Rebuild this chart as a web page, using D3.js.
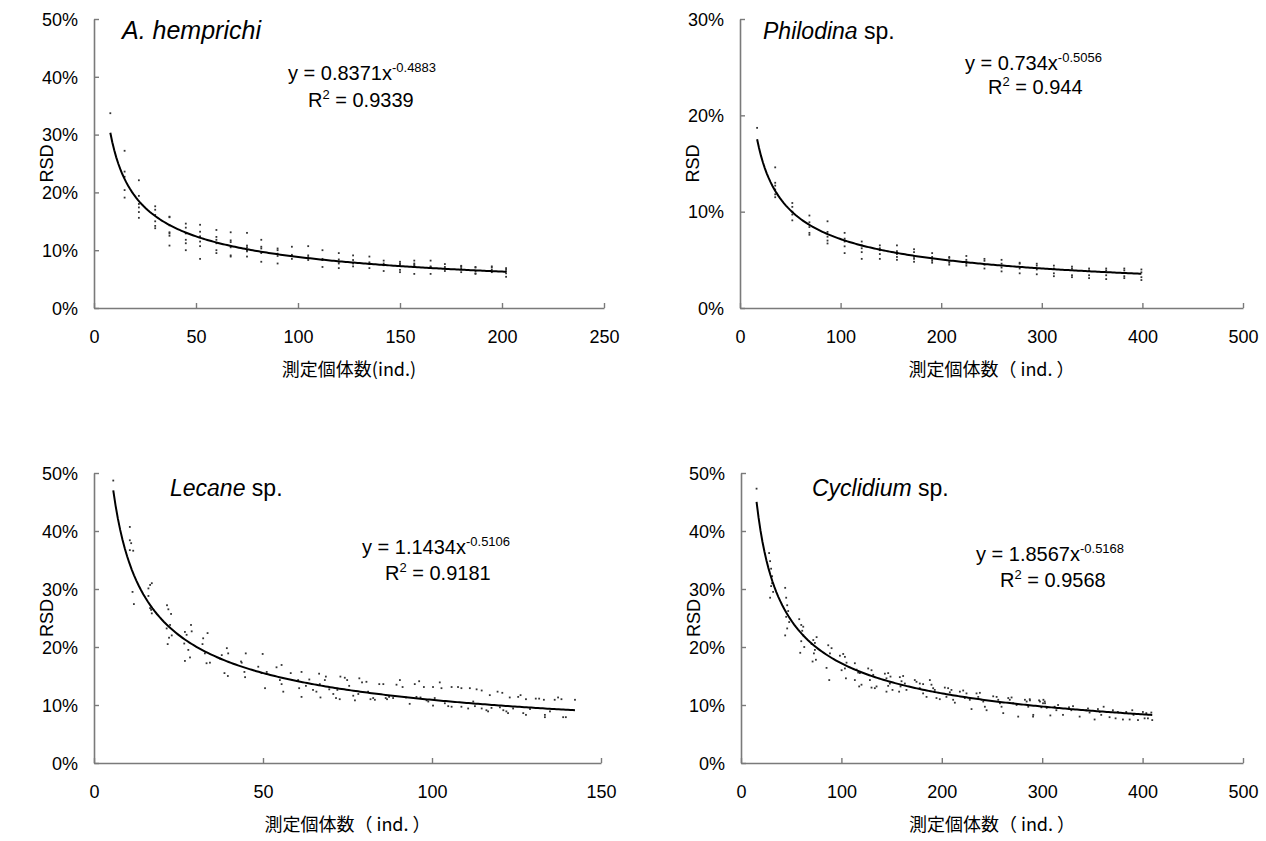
<!DOCTYPE html>
<html><head><meta charset="utf-8">
<script src="https://cdn.jsdelivr.net/npm/d3@7"></script>
<style>body{margin:0;background:#fff}</style>
</head><body>
<svg id="chart" width="1266" height="841"></svg>
<script>
// ---------- data ----------
// A. hemprichi : sample size groups and RSD values measured in each group
const hempX = [8, 15, 22, 30, 37, 45, 52, 60, 67, 75, 82, 90, 97, 105, 112, 120, 127, 135, 142, 150, 157, 165, 172, 180, 187, 195, 202];
const hempY = [
  [0.337],
  [0.272, 0.236, 0.227, 0.204, 0.191],
  [0.221, 0.194, 0.180, 0.174, 0.166, 0.156],
  [0.176, 0.170, 0.161, 0.150, 0.142, 0.138],
  [0.158, 0.157, 0.143, 0.131, 0.129, 0.125, 0.108],
  [0.146, 0.139, 0.129, 0.118, 0.112, 0.100],
  [0.144, 0.132, 0.124, 0.115, 0.107, 0.085],
  [0.135, 0.123, 0.118, 0.112, 0.100, 0.095],
  [0.131, 0.117, 0.114, 0.105, 0.091, 0.089],
  [0.130, 0.108, 0.105, 0.100, 0.098, 0.089],
  [0.118, 0.106, 0.103, 0.095, 0.080],
  [0.103, 0.100, 0.094, 0.090, 0.077],
  [0.106, 0.092, 0.090, 0.085],
  [0.107, 0.091, 0.088, 0.083],
  [0.100, 0.085, 0.083, 0.071],
  [0.095, 0.084, 0.080, 0.077, 0.069],
  [0.091, 0.083, 0.077, 0.072],
  [0.089, 0.079, 0.077, 0.069],
  [0.082, 0.077, 0.074, 0.064],
  [0.080, 0.077, 0.075, 0.066, 0.062],
  [0.082, 0.077, 0.075, 0.073, 0.059],
  [0.082, 0.072, 0.071, 0.059],
  [0.076, 0.071, 0.068, 0.064],
  [0.073, 0.072, 0.069, 0.062],
  [0.071, 0.070, 0.064, 0.060, 0.059],
  [0.072, 0.070, 0.066, 0.062],
  [0.069, 0.066, 0.063, 0.060, 0.054]
];

// Philodina sp.
const philX = [17, 35, 52, 69, 87, 104, 121, 139, 156, 173, 191, 208, 225, 243, 260, 278, 295, 312, 330, 347, 364, 382, 399];
const philY = [
  [0.187],
  [0.146, 0.130, 0.127, 0.123, 0.118, 0.115],
  [0.109, 0.105, 0.100, 0.097, 0.091],
  [0.096, 0.089, 0.084, 0.078, 0.076],
  [0.090, 0.079, 0.074, 0.070, 0.067],
  [0.078, 0.072, 0.069, 0.064, 0.057],
  [0.069, 0.065, 0.062, 0.058, 0.051],
  [0.065, 0.062, 0.060, 0.056, 0.051],
  [0.065, 0.059, 0.056, 0.053, 0.050],
  [0.061, 0.058, 0.053, 0.051, 0.048],
  [0.057, 0.053, 0.051, 0.049, 0.047],
  [0.053, 0.052, 0.049, 0.047, 0.045],
  [0.054, 0.050, 0.048, 0.046, 0.044],
  [0.051, 0.049, 0.045, 0.041],
  [0.050, 0.046, 0.042, 0.038],
  [0.047, 0.046, 0.041, 0.036],
  [0.046, 0.044, 0.040, 0.035],
  [0.044, 0.041, 0.036, 0.033],
  [0.043, 0.041, 0.034, 0.032],
  [0.041, 0.039, 0.034, 0.031],
  [0.041, 0.039, 0.034, 0.030],
  [0.041, 0.039, 0.033, 0.031],
  [0.040, 0.037, 0.032, 0.029]
];

// Lecane sp. : [sample size, RSD]
const lecanePts = [
  [5.7,0.487],[10.6,0.407],[10.6,0.384],[11.0,0.379],[10.6,0.367],[11.6,0.366],[11.4,0.295],[11.8,0.274],
  [16.1,0.301],[16.1,0.288],[16.6,0.307],[16.6,0.267],[17.1,0.310],[17.1,0.258],[16.9,0.264],
  [21.5,0.232],[21.6,0.272],[21.8,0.205],[22.0,0.265],[22.2,0.216],[22.5,0.238],[22.8,0.257],[23.0,0.220],
  [26.7,0.206],[26.9,0.226],[26.9,0.176],[27.4,0.221],[27.9,0.195],[28.4,0.182],[28.7,0.238],[28.9,0.227],
  [32.1,0.205],[32.3,0.215],[32.8,0.189],[33.3,0.172],[33.6,0.224],[34.3,0.173],
  [37.3,0.180],[37.8,0.186],[38.6,0.155],[39.3,0.198],[39.6,0.150],[39.7,0.189],
  [43.5,0.175],[43.7,0.173],[44.5,0.157],[44.7,0.148],[44.9,0.189],
  [48.6,0.166],[49.6,0.155],[49.9,0.188],[50.6,0.129],[51.1,0.157],
  [54.0,0.165],[55.0,0.143],[55.5,0.169],[55.5,0.136],[56.0,0.123],
  [58.2,0.155],[60.4,0.143],[60.7,0.129],[61.4,0.157],[61.4,0.114],
  [62.7,0.133],[63.7,0.144],[64.8,0.126],[65.8,0.123],[66.6,0.154],[67.0,0.113],[66.8,0.136],
  [68.3,0.143],[68.6,0.149],[69.6,0.127],[70.8,0.119],[71.6,0.112],[72.0,0.126],[72.7,0.110],[72.9,0.149],
  [74.2,0.147],[74.9,0.143],[75.5,0.133],[76.7,0.116],[77.2,0.108],[78.2,0.119],[78.5,0.146],[79.3,0.139],
  [80.6,0.140],[81.1,0.123],[81.8,0.110],[82.6,0.112],[83.1,0.109],[84.4,0.136],[85.6,0.136],[86.3,0.112],
  [86.7,0.110],[87.3,0.114],[88.5,0.112],[89.5,0.135],[90.5,0.143],[91.3,0.131],[92.3,0.113],[93.4,0.102],
  [94.9,0.136],[95.4,0.114],[96.2,0.141],[96.6,0.113],[97.6,0.131],[98.4,0.108],[98.9,0.106],[100.3,0.131],
  [100.8,0.112],[100.3,0.099],[102.3,0.139],[102.8,0.129],[103.8,0.103],[104.8,0.098],[105.8,0.131],[105.8,0.097],
  [107.7,0.131],[108.7,0.129],[108.7,0.097],[110.7,0.094],[111.2,0.129],[112.2,0.106],[112.7,0.098],[113.2,0.127],
  [114.7,0.125],[114.7,0.094],[116.1,0.091],[116.6,0.089],[117.1,0.117],[117.6,0.095],[119.4,0.123],[120.1,0.096],
  [120.8,0.121],[121.1,0.091],[122.0,0.089],[122.5,0.086],[123.0,0.113],[124.0,0.094],[125.5,0.114],[126.2,0.117],
  [127.0,0.086],[127.8,0.083],[127.8,0.110],[129.0,0.093],[130.7,0.111],[131.7,0.111],[133.1,0.109],[133.4,0.083],
  [133.4,0.079],[134.9,0.089],[136.3,0.109],[137.3,0.113],[138.3,0.110],[138.8,0.079],[139.6,0.079],[142.3,0.109]
];

// Cyclidium sp. : [sample size, RSD]
const cyclPts = [
  [15.5,0.473],
  [28,0.362],[29,0.348],[30,0.335],[31,0.322],[31,0.310],[30,0.305],[32,0.295],[29,0.285],
  [44,0.302],[45,0.285],[46,0.272],[47,0.262],[45,0.252],[48,0.243],[46,0.232],[44,0.220],
  [58,0.248],[60,0.238],[62,0.235],[61,0.228],[62,0.220],[60,0.210],[63,0.200],[59,0.190],
  [70.3,0.205],[72.0,0.212],[73.6,0.207],[75.3,0.217],[72.6,0.189],[71.3,0.175],[74.6,0.178],[73.6,0.195],
  [86.9,0.203],[88.6,0.189],[90.2,0.198],[85.2,0.164],[87.9,0.143],
  [98.5,0.185],[101.8,0.188],[103.5,0.183],[105.1,0.173],[100.2,0.160],[104.5,0.146],[103.5,0.163],
  [113.4,0.172],[115.1,0.161],[116.7,0.156],[118.4,0.155],[113.4,0.143],[117.7,0.132],[120.0,0.135],
  [126.7,0.163],[130.0,0.160],[131.7,0.152],[128.4,0.143],[130.0,0.130],[133.3,0.129],[135.0,0.132],
  [143.3,0.154],[146.6,0.155],[144.9,0.146],[148.3,0.137],[146.6,0.133],[144.9,0.123],[150.9,0.126],[148.9,0.149],
  [158.2,0.148],[159.9,0.141],[161.5,0.150],[163.2,0.137],[157.5,0.123],[158.9,0.132],[164.8,0.126],
  [173.1,0.143],[174.8,0.140],[178.1,0.137],[181.4,0.136],[178.1,0.129],[181.4,0.120],[184.8,0.114],
  [188.1,0.143],[189.7,0.135],[191.4,0.129],[193.0,0.126],[194.7,0.112],[198.0,0.110],
  [203.0,0.130],[206.3,0.129],[208.0,0.122],[209.6,0.126],[204.6,0.114],[211.3,0.109],[213.0,0.104],
  [218.0,0.123],[221.3,0.125],[224.6,0.120],[222.9,0.112],[227.9,0.109],[229.6,0.093],
  [234.6,0.120],[237.9,0.121],[236.3,0.114],[239.6,0.109],[241.3,0.106],[242.9,0.097],[244.6,0.091],
  [251.2,0.115],[254.6,0.114],[256.2,0.109],[257.9,0.103],[259.5,0.097],[261.2,0.086],
  [266.2,0.112],[267.7,0.109],[269.5,0.113],[271.1,0.103],[274.5,0.100],[276.1,0.080],
  [282.8,0.109],[284.5,0.106],[287.8,0.108],[286.1,0.097],[291.1,0.083],[287.6,0.110],[290.9,0.080],
  [297.8,0.106],[301.2,0.109],[302.8,0.103],[304.5,0.095],[296.9,0.108],[300.8,0.103],[299.2,0.096],[302.5,0.106],
  [308.1,0.082],[312.4,0.097],[314.1,0.091],[315.8,0.100],[320.7,0.083],[326.7,0.096],[329.0,0.091],[330.7,0.098],
  [337.3,0.080],[343.9,0.091],[345.6,0.094],[347.2,0.087],[352.2,0.075],[355.5,0.093],[358.8,0.083],[361.2,0.097],
  [357.2,0.088],[367.1,0.079],[370.4,0.091],[373.1,0.077],[375.4,0.088],[380.4,0.075],[383.7,0.088],[387.1,0.075],
  [389.7,0.091],[391.0,0.083],[395.4,0.074],[400.3,0.088],[402.0,0.077],[403.7,0.086],[405.3,0.077],[408.7,0.087],[409.6,0.074]
];

// Power fits y = a * x^b stated on each panel
const speciesNames = [["A. hemprichi", ""], ["Philodina", " sp."], ["Lecane", " sp."], ["Cyclidium", " sp."]];
const fitA = [0.8371, 0.734, 1.1434, 1.8567];
const fitB = [-0.4883, -0.5056, -0.5106, -0.5168];
const fitR2 = ["0.9339", "0.944", "0.9181", "0.9568"];

// Axis ticks
const xTicksList = [[0, 50, 100, 150, 200, 250], [0, 100, 200, 300, 400, 500], [0, 50, 100, 150], [0, 100, 200, 300, 400, 500]];
const yTicksList = [[0, 0.1, 0.2, 0.3, 0.4, 0.5], [0, 0.1, 0.2, 0.3], [0, 0.1, 0.2, 0.3, 0.4, 0.5], [0, 0.1, 0.2, 0.3, 0.4, 0.5]];
const xLabels = ["測定個体数(ind.)", "測定個体数（ ind. ）", "測定個体数（ ind. ）", "測定個体数（ ind. ）"];

// ---------- layout ----------
const layout = [
  {left: 94,  top: 19,  w: 510, h: 289, title: [122, 39],  titleSize: 25, eq: [288, 80],  r2: [308, 107]},
  {left: 740, top: 19,  w: 503, h: 289, title: [763, 39],  titleSize: 23, eq: [965, 70],  r2: [988, 94]},
  {left: 94,  top: 473, w: 507, h: 290, title: [170, 496], titleSize: 23, eq: [362, 554], r2: [385, 580]},
  {left: 741, top: 473, w: 502, h: 290, title: [812, 496], titleSize: 23, eq: [976, 561], r2: [1000, 587]}
];

const pointSets = [
  hempX.flatMap((x, i) => hempY[i].map(y => [x, y])),
  philX.flatMap((x, i) => philY[i].map(y => [x, y])),
  lecanePts,
  cyclPts
];

const svg = d3.select("#chart");
const FONT = "'Liberation Sans', Arial, sans-serif";
const JFONT = "'Noto Sans CJK JP', 'Liberation Sans', sans-serif";
const axisColor = "#7a7a7a";
const pct = d3.format(".0%");

layout.forEach((L, i) => {
  const xt = xTicksList[i], yt = yTicksList[i];
  const x = d3.scaleLinear().domain([0, xt[xt.length - 1]]).range([L.left, L.left + L.w]);
  const y = d3.scaleLinear().domain([0, yt[yt.length - 1]]).range([L.top + L.h, L.top]);
  const g = svg.append("g");

  // x axis (ticks pointing into the plot)
  const gx = g.append("g").attr("transform", `translate(0,${L.top + L.h})`)
    .call(d3.axisBottom(x).tickValues(xt).tickSizeInner(-5).tickSizeOuter(0).tickPadding(22));
  // y axis
  const gy = g.append("g").attr("transform", `translate(${L.left},0)`)
    .call(d3.axisLeft(y).tickValues(yt).tickFormat(pct).tickSizeInner(-5).tickSizeOuter(0).tickPadding(16));
  [gx, gy].forEach(a => {
    a.select(".domain").attr("stroke", axisColor).attr("stroke-width", 1.6);
    a.selectAll(".tick line").attr("stroke", axisColor).attr("stroke-width", 1.4);
    a.selectAll(".tick text").attr("fill", "#000").style("font-family", FONT).style("font-size", "18px");
  });
  gy.selectAll(".tick text").attr("dy", "0.35em");

  // axis titles
  g.append("text").attr("x", L.left + L.w / 2).attr("y", L.top + L.h + 68)
    .attr("text-anchor", "middle").style("font-family", JFONT).style("font-size", "18px").text(xLabels[i]);
  g.append("text").attr("transform", `translate(${L.left - 47},${L.top + L.h / 2}) rotate(-90)`)
    .attr("text-anchor", "middle").attr("dy", "0.35em")
    .style("font-family", FONT).style("font-size", "18px").text("RSD");

  // observations
  g.append("g").selectAll("rect").data(pointSets[i]).join("rect")
    .attr("x", d => x(d[0]) - 0.9).attr("y", d => y(d[1]) - 0.9)
    .attr("width", 1.8).attr("height", 1.8).attr("fill", "#333");

  // fitted power curve
  const ext = d3.extent(pointSets[i], d => d[0]);
  const xs = d3.range(ext[0], ext[1] + 0.001, (ext[1] - ext[0]) / 200);
  g.append("path").datum(xs)
    .attr("d", d3.line().x(v => x(v)).y(v => y(fitA[i] * Math.pow(v, fitB[i]))))
    .attr("fill", "none").attr("stroke", "#000").attr("stroke-width", 2);

  // species name
  const t = g.append("text").attr("x", L.title[0]).attr("y", L.title[1])
    .style("font-family", FONT).style("font-size", L.titleSize + "px");
  t.append("tspan").style("font-style", "italic").text(speciesNames[i][0]);
  t.append("tspan").text(speciesNames[i][1]);

  // equation and R²
  const e = g.append("text").attr("x", L.eq[0]).attr("y", L.eq[1])
    .style("font-family", FONT).style("font-size", "20px");
  e.append("tspan").text(`y = ${fitA[i]}x`);
  e.append("tspan").attr("dy", -8).style("font-size", "13px").text(String(fitB[i]));
  const r = g.append("text").attr("x", L.r2[0]).attr("y", L.r2[1])
    .style("font-family", FONT).style("font-size", "20px");
  r.append("tspan").text("R");
  r.append("tspan").attr("dy", -8).style("font-size", "13px").text("2");
  r.append("tspan").attr("dy", 8).text(` = ${fitR2[i]}`);
});
</script>
</body></html>
